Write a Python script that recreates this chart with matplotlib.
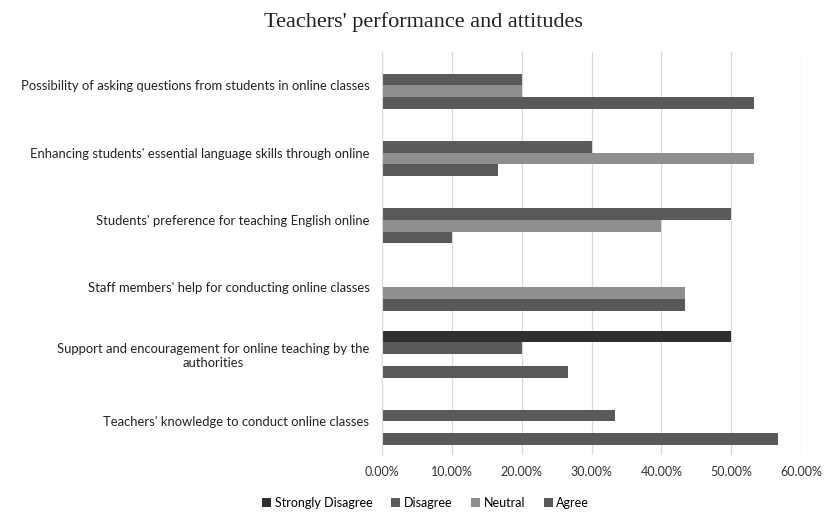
import matplotlib.pyplot as plt
import numpy as np
from matplotlib.ticker import PercentFormatter

categories = [
    "Possibility of asking questions from students in online classes",
    "Enhancing students' essential language skills through online",
    "Students' preference for teaching English online",
    "Staff members' help for conducting online classes",
    "Support and encouragement for online teaching by the\nauthorities",
    "Teachers' knowledge to conduct online classes",
]
series = ["Strongly Disagree", "Disagree", "Neutral", "Agree"]
strongly_disagree = [0.0, 0.0, 0.0, 0.0, 50.0, 0.0]
disagree = [20.0, 30.0, 50.0, 0.0, 20.0, 33.33]
neutral = [20.0, 53.33, 40.0, 43.33, 0.0, 0.0]
agree = [53.33, 16.67, 10.0, 43.33, 26.67, 56.67]
colours = ["#2f2f2f", "#5a5a5a", "#8e8e8e", "#595959"]

plt.rcParams["font.family"] = ["Lato", "DejaVu Sans"]

fig = plt.figure(figsize=(8.25, 5.13), dpi=100)
ax = fig.add_axes([0.463, 0.113, 0.508, 0.786])

y = np.arange(len(categories))
h = 0.175
for i, (name, vals) in enumerate(zip(series, [strongly_disagree, disagree, neutral, agree])):
    ax.barh(y + (i - 1.5) * h, vals, height=h, color=colours[i], label=name)

ax.set_ylim(len(categories) - 0.5, -0.5)
ax.set_xlim(0, 60)
ax.set_xticks(np.arange(0, 61, 10))
ax.xaxis.set_major_formatter(PercentFormatter(decimals=2))
ax.set_yticks(y)
ax.set_yticklabels(categories, fontsize=9.4, color="#222222", ha="right", multialignment="center")
ax.tick_params(axis="y", length=0, pad=9)
ax.tick_params(axis="x", length=0, labelsize=9, colors="#333333", pad=8)
ax.grid(axis="x", color="#d9d9d9", linewidth=0.9)
ax.set_axisbelow(True)
for s in ["top", "right", "bottom"]:
    ax.spines[s].set_visible(False)
ax.spines["left"].set_color("#d9d9d9")

fig.text(0.513, 0.957, "Teachers' performance and attitudes", ha="center", va="center",
         fontsize=16, family="Liberation Serif", color="#222222")

fig.legend(loc="center", bbox_to_anchor=(0.516, 0.02), ncol=4, frameon=False, fontsize=9,
           handlelength=0.7, handleheight=0.7, handletextpad=0.3, columnspacing=1.5)

fig.savefig("out.png", dpi=100)
